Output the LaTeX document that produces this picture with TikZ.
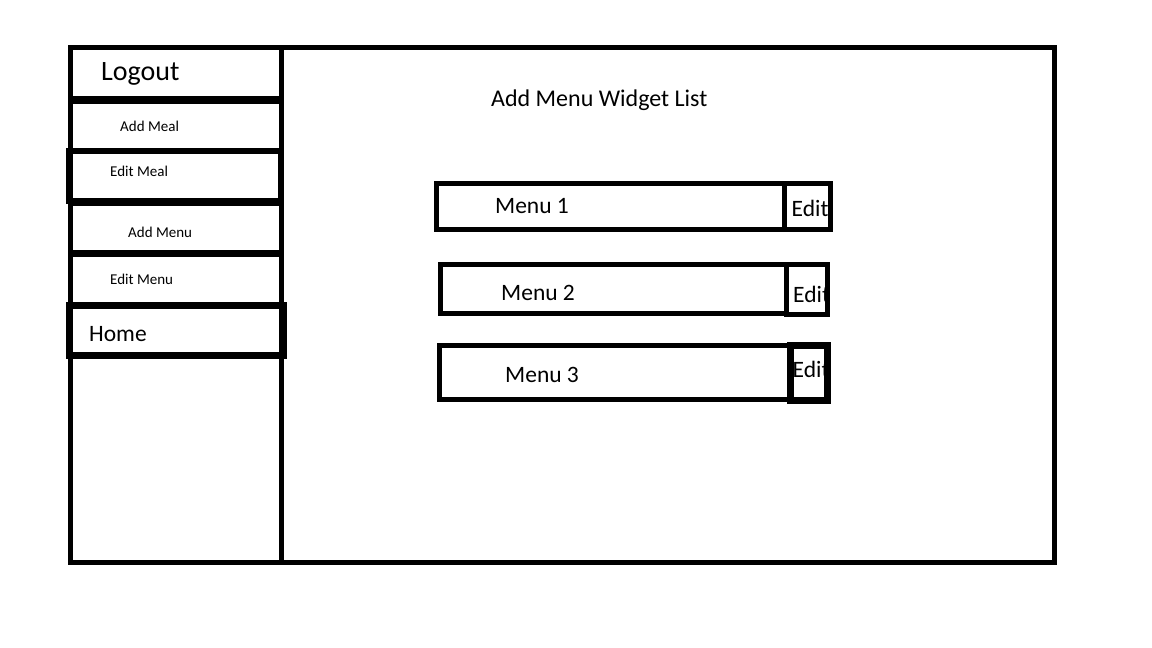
\documentclass[tikz,border=0pt]{standalone}
\usepackage{fontspec}
\setmainfont{Carlito}
\usetikzlibrary{positioning}

\begin{document}
\begin{tikzpicture}[x=1pt, y=-1pt,
  frame/.style={draw=black, line width=5pt},
  heavyframe/.style={draw=black, line width=7pt},
  caption/.style={anchor=base west, inner sep=0pt, text=black},
  navsmall/.style={caption, font=\fontsize{15}{18}\selectfont},
  navbig/.style={caption, font=\fontsize{23.5}{28}\selectfont},
  itemtext/.style={caption, font=\fontsize{23.5}{28}\selectfont}
]
  \useasboundingbox (0,0) rectangle (1152,648);

  % texts first, so the frames lie on top
  \node[caption, font=\fontsize{28}{32}\selectfont] (logout) at (101,80) {Logout};
  \node[navsmall] (addmeal) at (120,131) {Add Meal};
  \node[navsmall] (editmeal) at (110,176) {Edit Meal};
  \node[navsmall] (addmenu) at (128,237) {Add Menu};
  \node[navsmall] (editmenu) at (110,284) {Edit Menu};
  \node[navbig] (home) at (89,341) {Home};
  \node[caption, font=\fontsize{24}{28}\selectfont] (title) at (491,106.5) {Add Menu Widget List};

  \node[itemtext] (menuA) at (495,213) {Menu 1};
  \node[itemtext] (menuB) at (501,300) {Menu 2};
  \node[itemtext] (menuC) at (505,382) {Menu 3};
  \node[itemtext] (editA) at (791.5,216.5) {Edit};
  \node[itemtext] (editB) at (793,302) {Edit};
  \node[itemtext] (editC) at (792.5,377) {Edit};

  % page and sidebar
  \draw[frame] (70,47.5) rectangle (1054,562);
  \draw[frame] (281,47.5) -- (281,562);

  % sidebar buttons
  \draw[frame] (70,47.5) rectangle (281,98);
  \draw[frame] (70,101) rectangle (281,150);
  \draw[frame, line width=6pt] (69,151) rectangle (281,201);
  \draw[frame] (70,203) rectangle (281,252);
  \draw[frame] (70,254) rectangle (281,304);
  \draw[heavyframe] (69,305) rectangle (283,355);

  % menu rows
  \draw[frame] (436.5,183) rectangle (784,229);
  \draw[frame] (784,183) rectangle (830,229);
  \draw[frame] (440.5,264.5) rectangle (786.5,313.5);
  \draw[frame] (786.5,264.5) rectangle (827.5,314.5);
  \draw[frame] (439,345.5) rectangle (789,399);
  \draw[heavyframe] (790,345.5) rectangle (827.5,400.5);
\end{tikzpicture}
\end{document}
